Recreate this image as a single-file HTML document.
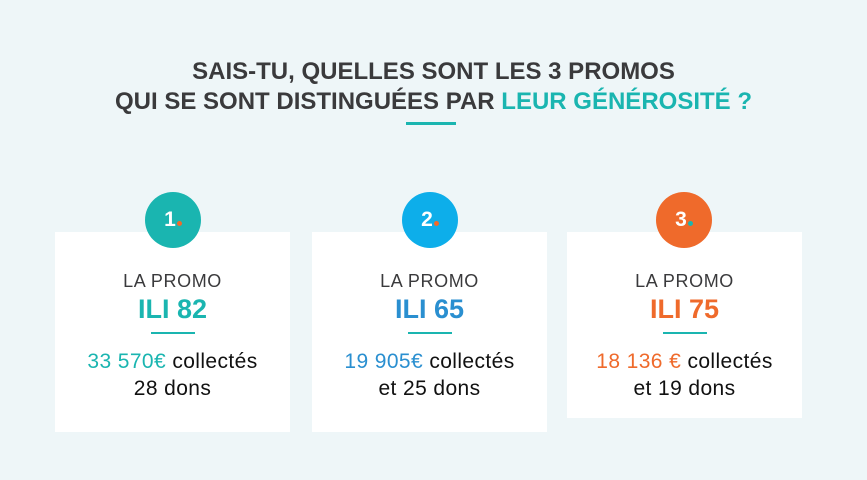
<!DOCTYPE html>
<html><head><meta charset="utf-8"><style>
body{margin:0;width:867px;height:480px;background:#eef6f8;font-family:"Liberation Sans",sans-serif;position:relative;overflow:hidden}
.t{position:absolute;left:0;width:867px;text-align:center;font-weight:bold;font-size:24px;color:#3a3a3c}
.card{position:absolute;background:#fff;width:235px;top:232px;text-align:center}
.circ{position:absolute;width:56px;height:56px;border-radius:50%;top:192px;color:#fff;font-weight:bold;font-size:21px;line-height:56px;text-align:center}
.circ i{display:inline-block;width:5px;height:5px;border-radius:50%;margin-left:1px}
.lp{position:absolute;top:39px;width:100%;font-size:18px;letter-spacing:0.6px;color:#3a3a3c}
.ili{position:absolute;top:62px;width:100%;font-size:27px;font-weight:bold}
.ln{position:absolute;top:100px;left:96px;width:44px;height:2px;background:#1ab5b0}
.tx{position:absolute;top:116px;width:100%;font-size:21px;letter-spacing:0.4px;line-height:27px;color:#111}
</style></head><body>
<div class="t" style="top:58px">SAIS-TU, QUELLES SONT LES 3 PROMOS</div>
<div class="t" style="top:88px">QUI SE SONT DISTINGUÉES PAR <span style="color:#1ab5b0">LEUR GÉNÉROSITÉ ?</span></div>
<div style="position:absolute;left:406px;top:122px;width:50px;height:3px;background:#1ab5b0"></div>

<div class="card" style="left:55px;height:200px"><div class="lp">LA PROMO</div><div class="ili" style="color:#1ab5b0">ILI 82</div><div class="ln"></div><div class="tx"><span style="color:#1ab5b0">33 570€</span> collectés<br>28 dons</div></div>
<div class="card" style="left:312px;height:200px"><div class="lp">LA PROMO</div><div class="ili" style="color:#2a8fd0">ILI 65</div><div class="ln"></div><div class="tx"><span style="color:#2a8fd0">19 905€</span> collectés<br>et 25 dons</div></div>
<div class="card" style="left:567px;height:186px"><div class="lp">LA PROMO</div><div class="ili" style="color:#ef6a2b">ILI 75</div><div class="ln"></div><div class="tx"><span style="color:#ef6a2b">18 136 €</span> collectés<br>et 19 dons</div></div>

<div class="circ" style="left:145px;background:#1ab5b0">1<i style="background:#ef6a2b"></i></div>
<div class="circ" style="left:402px;background:#0daeea">2<i style="background:#ef6a2b"></i></div>
<div class="circ" style="left:656px;background:#ef6a2b">3<i style="background:#1ab5b0"></i></div>
</body></html>
